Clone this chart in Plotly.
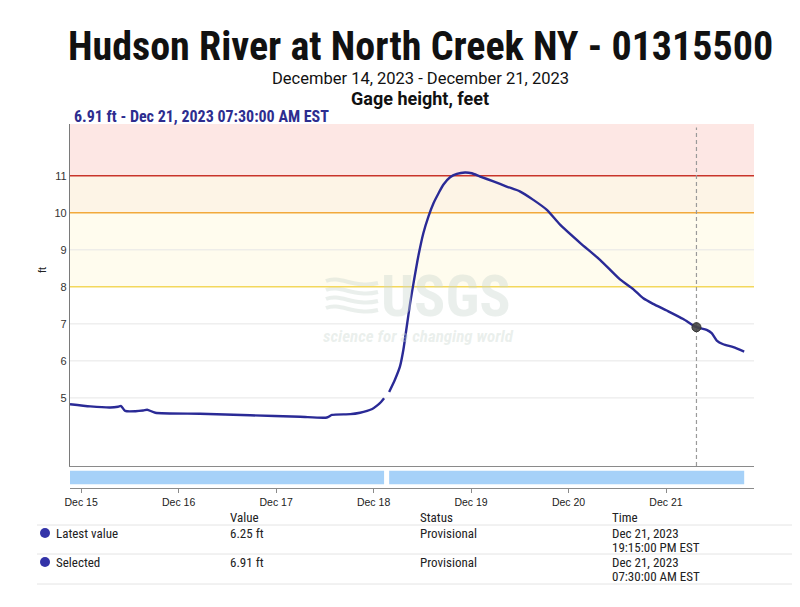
import plotly.graph_objects as go
import pandas as pd

# ---------------- data ----------------
times = [
    "2023-12-14 21:15", "2023-12-15 02:15", "2023-12-15 07:10", "2023-12-15 09:05",
    "2023-12-15 09:50", "2023-12-15 10:50", "2023-12-15 15:15", "2023-12-15 16:15",
    "2023-12-15 18:15", "2023-12-16 05:15", "2023-12-16 17:35", "2023-12-17 05:55",
    "2023-12-17 12:30", "2023-12-17 13:45", "2023-12-17 18:15", "2023-12-17 20:40",
    "2023-12-17 22:25", "2023-12-17 23:40", "2023-12-18 00:50", "2023-12-18 01:50",
    "2023-12-18 02:35", "2023-12-18 03:10",
    "2023-12-18 03:50", "2023-12-18 05:15", "2023-12-18 06:30", "2023-12-18 07:20",
    "2023-12-18 08:10", "2023-12-18 09:00", "2023-12-18 09:50", "2023-12-18 11:00",
    "2023-12-18 12:15", "2023-12-18 13:30", "2023-12-18 14:45", "2023-12-18 16:00",
    "2023-12-18 17:10", "2023-12-18 18:50", "2023-12-18 20:30", "2023-12-18 22:30",
    "2023-12-19 00:10", "2023-12-19 02:15", "2023-12-19 05:30", "2023-12-19 08:45",
    "2023-12-19 12:00", "2023-12-19 15:20", "2023-12-19 18:40", "2023-12-19 21:55",
    "2023-12-20 02:50", "2023-12-20 07:45", "2023-12-20 12:40", "2023-12-20 15:55",
    "2023-12-20 18:25", "2023-12-20 20:50", "2023-12-21 00:10", "2023-12-21 04:15",
    "2023-12-21 07:30", "2023-12-21 10:00", "2023-12-21 11:15", "2023-12-21 12:30",
    "2023-12-21 14:05", "2023-12-21 16:35", "2023-12-21 19:15",
]
heights = [
    4.83, 4.77, 4.74, 4.76,
    4.78, 4.65, 4.66, 4.68,
    4.60, 4.57, 4.53, 4.49,
    4.47, 4.54, 4.56, 4.60,
    4.65, 4.70, 4.79, 4.89,
    4.99, None,
    5.16, 5.49, 5.85, 6.30,
    6.93, 7.56, 8.10, 8.82,
    9.45, 9.90, 10.26, 10.53,
    10.76, 10.96, 11.05, 11.09,
    11.07, 10.98, 10.85, 10.71,
    10.58, 10.35, 10.08, 9.68,
    9.19, 8.73, 8.20, 7.94,
    7.69, 7.54, 7.36, 7.13,
    6.91, 6.84, 6.75, 6.55,
    6.45, 6.37, 6.25,
]

selected_time = "2023-12-21 07:30"
selected_value = 6.91

threshold_levels = [8, 10, 11]
threshold_colors = ["#f3d85c", "#f2a93b", "#c9342a"]
band_ranges = [(8, 10), (10, 11), (11, 12.4)]
band_colors = ["#fffcee", "#fdf4e6", "#fde7e4"]
grid_levels = [5, 6, 7, 9]

y_ticks = [5, 6, 7, 8, 9, 10, 11]
x_range = ["2023-12-14 21:15", "2023-12-21 21:40"]
y_range = [3.16, 12.4]

title = "Hudson River at North Creek NY - 01315500"
subtitle = "December 14, 2023 - December 21, 2023"
param_label = "Gage height, feet"
selected_label = "6.91 ft - Dec 21, 2023 07:30:00 AM EST"

table_header = ["Value", "Status", "Time"]
table_rows = [
    ["Latest value", "6.25 ft", "Provisional", "Dec 21, 2023", "19:15:00 PM EST"],
    ["Selected", "6.91 ft", "Provisional", "Dec 21, 2023", "07:30:00 AM EST"],
]

# ---------------- styling ----------------
OFF = 8  # page body margin
W, H = 792, 599
ML, MR, MT, MB = 62, 46, 116, 119
PW, PH = W - ML - MR, H - MT - MB
LINE = "#2a2a96"
NARROW = "Liberation Sans Narrow, Roboto Condensed, Roboto, sans-serif"
ROBOTO = "Roboto, Liberation Sans, sans-serif"
SANS = "Liberation Sans, Arial, sans-serif"


def px2x(px):
    return (px - OFF - ML) / PW


def py2y(py):
    return (H - MB - (py - OFF)) / PH


fig = go.Figure()

# hydrograph line
fig.add_trace(go.Scatter(
    x=times, y=heights, mode="lines", connectgaps=False,
    line=dict(color=LINE, width=2.4, shape="spline", smoothing=0.6),
    xaxis="x", yaxis="y", hoverinfo="skip", showlegend=False,
))

# selected point
fig.add_trace(go.Scatter(
    x=[selected_time], y=[selected_value], mode="markers",
    marker=dict(color="rgba(70,70,70,0.9)", size=9, line=dict(color="#333", width=1)),
    xaxis="x", yaxis="y", showlegend=False, hoverinfo="skip",
))

# data availability strip: continuous runs of data
segments = []
start = None
prev = None
for t, v in zip(times, heights):
    if v is not None:
        if start is None:
            start = t
        prev = t
    else:
        if start is not None:
            segments.append((start, prev))
        start = None
if start is not None:
    segments.append((start, prev))

for s, e in segments:
    dur = (pd.Timestamp(e) - pd.Timestamp(s)).total_seconds() * 1000
    fig.add_trace(go.Bar(
        base=[s], x=[dur], y=[0], orientation="h", width=0.64,
        marker=dict(color="#a6d1f8", line=dict(width=0)),
        xaxis="x2", yaxis="y2", showlegend=False, hoverinfo="skip",
    ))

shapes = []
# colored bands
for (y0, y1), c in zip(band_ranges, band_colors):
    shapes.append(dict(type="rect", xref="x domain", yref="y", x0=0, x1=1, y0=y0, y1=y1,
                       fillcolor=c, line=dict(width=0), layer="below"))
# grid lines
for lv in grid_levels:
    shapes.append(dict(type="line", xref="x domain", yref="y", x0=0, x1=1, y0=lv, y1=lv,
                       line=dict(color="#e6e6e6", width=1), layer="below"))
# watermark waves
wm = "rgba(200,214,206,0.38)"
for k in range(4):
    yy = 281 + k * 9
    path = (f"M {px2x(326)} {py2y(yy)} C {px2x(340)} {py2y(yy-6)}, {px2x(355)} {py2y(yy+8)}, "
            f"{px2x(378)} {py2y(yy+2)}")
    shapes.append(dict(type="path", xref="paper", yref="paper", path=path,
                       line=dict(color=wm, width=4), layer="below"))
# threshold lines
for lv, c in zip(threshold_levels, threshold_colors):
    shapes.append(dict(type="line", xref="x domain", yref="y", x0=0, x1=1, y0=lv, y1=lv,
                       line=dict(color=c, width=1.5), layer="below"))
# selected vertical dashed line
shapes.append(dict(type="line", xref="x", yref="y domain", x0=selected_time, x1=selected_time,
                   y0=0, y1=0.99, line=dict(color="#9a9a9a", width=1.2, dash="4px,3px"),
                   layer="below"))

# table lines
for ly in [525, 554, 584]:
    shapes.append(dict(type="line", xref="paper", yref="paper", x0=px2x(37), x1=px2x(800),
                       y0=py2y(ly), y1=py2y(ly), line=dict(color="#e4e4e4", width=1),
                       layer="above"))
# table dots
for ry in [533, 562]:
    shapes.append(dict(type="circle", xref="paper", yref="paper",
                       x0=px2x(40), x1=px2x(50), y0=py2y(ry + 5), y1=py2y(ry - 5),
                       fillcolor="#3333a8", line=dict(width=0), layer="above"))

ann = []


def text(s, px, py, size, color="#222", family=NARROW, xanchor="center", bold=False, italic=False,
         textangle=0):
    if bold:
        s = f"<b>{s}</b>"
    if italic:
        s = f"<i>{s}</i>"
    ann.append(dict(text=s, x=px2x(px), y=py2y(py), xref="paper", yref="paper", showarrow=False,
                    xanchor=xanchor, yanchor="middle", textangle=textangle,
                    font=dict(size=size, color=color, family=family)))


text(title, 420, 46, 40, "#111", bold=True)
text(subtitle, 420, 78, 16.5, "#111", family=ROBOTO)
text(param_label, 420, 98, 18, "#111", family=ROBOTO, bold=True)
text(selected_label, 72, 116, 16, "#2d2d8f", xanchor="left", bold=True)
text("ft", 42, 270, 11, "#222", family=SANS, textangle=-90)

# watermark text
text("USGS", 446, 296, 58, wm, bold=True)
text("science for a changing world", 418, 336, 17, wm, bold=True, italic=True)

# table text
cols = [228, 418, 610]
for c, h in zip(cols, table_header):
    text(h, c, 517, 13, "#222", xanchor="left")
for row, ry in zip(table_rows, [533, 562]):
    text(row[0], 54, ry, 13, "#222", xanchor="left")
    text(row[1], cols[0], ry, 13, "#222", xanchor="left")
    text(row[2], cols[1], ry, 13, "#222", xanchor="left")
    text(row[3], cols[2], ry, 13, "#222", xanchor="left")
    text(row[4], cols[2], ry + 14, 13, "#222", xanchor="left")

strip_top = 22 / PH

fig.update_layout(
    width=W, height=H,
    margin=dict(l=ML, r=MR, t=MT, b=MB, pad=0),
    paper_bgcolor="white", plot_bgcolor="white",
    showlegend=False, barmode="overlay",
    shapes=shapes, annotations=ann,
    xaxis=dict(domain=[0, 1], anchor="y", range=x_range, type="date",
               showticklabels=False, showgrid=False, zeroline=False,
               showline=True, linecolor="#8a8a8a", linewidth=1.2, ticks=""),
    yaxis=dict(domain=[strip_top, 1], anchor="x", range=y_range, tickvals=y_ticks,
               showgrid=False, zeroline=False,
               showline=True, linecolor="#7a7a7a", linewidth=1.2, ticks="",
               tickfont=dict(size=11, color="#333", family=SANS)),
    xaxis2=dict(domain=[0, 1], anchor="y2", matches="x", type="date",
                tick0="2023-12-15", dtick=86400000, tickformat="%b %d",
                showgrid=False, zeroline=False, showline=True, linecolor="#8a8a8a",
                linewidth=1.2, ticks="outside", ticklen=4, tickcolor="#8a8a8a",
                tickfont=dict(size=10.5, color="#222", family=SANS)),
    yaxis2=dict(domain=[0, strip_top - 0.003], anchor="x2", range=[-0.5, 0.5],
                showticklabels=False, showgrid=False, zeroline=False, showline=False),
)

fig.write_html("out.html")
